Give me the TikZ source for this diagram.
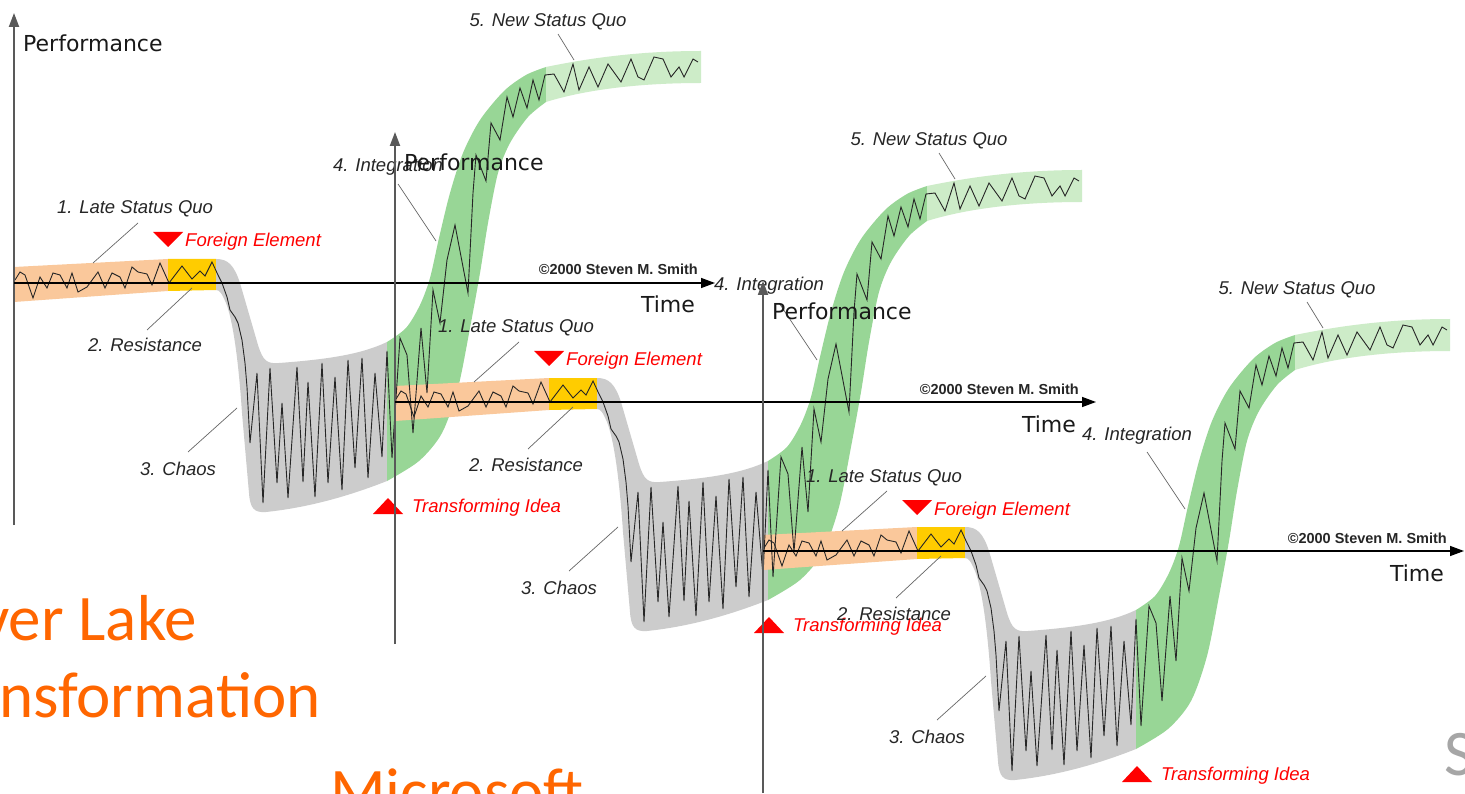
\documentclass[tikz,border=0pt]{standalone}
\usepackage{fontspec}
\setmainfont{Liberation Sans}
\newfontfamily\stagefam{Liberation Sans}
\newfontfamily\axisfam{DejaVu Sans}
\newfontfamily\slidefam{Carlito}
\usetikzlibrary{arrows.meta}

\definecolor{bandorange}{RGB}{250,200,155}
\definecolor{bandyellow}{RGB}{255,204,0}
\definecolor{bandgray}{RGB}{204,204,204}
\definecolor{bandgreen}{RGB}{152,214,150}
\definecolor{bandlight}{RGB}{205,236,200}
\definecolor{cuered}{RGB}{255,0,0}
\definecolor{slideorange}{RGB}{255,102,0}
\definecolor{slidegray}{RGB}{166,166,166}

\newcommand\stagefont{\stagefam\itshape\fontsize{18.5}{20}\selectfont}
\newcommand\axislabelfont{\axisfam\fontsize{22}{24}\selectfont}
\newcommand\creditfont{\stagefam\bfseries\fontsize{14.5}{16}\selectfont}
\newcommand\slidefont{\slidefam\fontsize{65}{70}\selectfont}

\tikzset{
  trend/.style={draw=black!85, line width=0.9pt, line join=miter},
  leader/.style={draw=black!60, line width=0.7pt},
  vaxis/.style={draw=black!65, line width=2pt, -{Triangle[length=14pt,width=10pt]}},
  haxis/.style={draw=black, line width=1.4pt, -{Triangle[length=14pt,width=10pt]}},
  stage/.style={font=\stagefont, text=black!85, inner sep=0pt},
  cue/.style={font=\stagefont, text=cuered, inner sep=0pt},
  axislabel/.style={font=\axislabelfont, text=black!90, inner sep=0pt},
  credit/.style={font=\creditfont, text=black!85, inner sep=0pt},
  slide/.style={font=\slidefont, text=slideorange, inner sep=0pt},
}

% Coloured bands of one change curve (origin = axis crossing, y grows downwards)
\newcommand\satirbands{%
  % 1. late status quo
  \fill[bandorange] (0,-16) -- (154,-24) -- (154,8) -- (0,19) -- cycle;
  % 2. resistance
  \fill[bandyellow] (154,-24) -- (202,-24) -- (202,7) -- (154,8) -- cycle;
  % 3. chaos
  \fill[bandgray] (202,-24) .. controls (214,-24) and (220,-18) .. (226,0)
     -- (244,62) .. controls (249,78) and (253,81) .. (265,80)
     .. controls (320,76) and (350,70) .. (373,59)
     -- (373,198) .. controls (330,215) and (290,225) .. (252,229)
     .. controls (240,230) and (236,225) .. (235,210)
     -- (228,130) .. controls (224,70) and (218,35) .. (212,20)
     .. controls (208,11) and (206,7) .. (202,7) -- cycle;
  % 4. integration
  \fill[bandgreen] plot[smooth] coordinates {(373,59) (392,45) (406,22) (416,-5)
     (425,-45) (436,-90) (449,-130) (466,-163) (490,-192) (512,-208) (532,-216)}
     -- plot[smooth] coordinates {(532,-181) (514,-166) (496,-140) (484,-110)
     (474,-60) (466,-10) (456,45) (444,105) (428,150) (405,178) (373,198)} -- cycle;
  % 5. new status quo
  \fill[bandlight] (532,-216) .. controls (590,-228) and (640,-232) .. (687,-232)
     -- (687,-200) .. controls (640,-200) and (580,-196) .. (532,-181) -- cycle;
}

% Curve, axes and labels of one change curve; #1 tags the names
\newcommand\satirdetail[1]{%
  \draw[trend] plot coordinates {(1,-3) (6,-11) (11,-8) (19,15) (26,-6) (33,5)
     (39,-10) (46,-8) (53,5) (58,-10) (64,9) (73,4) (84,-11) (91,5) (98,-10)
     (106,-6) (111,5) (118,-16) (124,-11) (133,-9) (138,2) (146,-20) (155,0)
     (168,-17) (178,-4) (186,-12) (191,-7) (198,-21) (204,-8) (208,0) (213,14)
     (216,27) (221,34) (224,40) (228,57) (231,80) (233,104) (236,160) (243,90)
     (249,220) (256,85) (263,200) (268,120) (274,215) (283,84) (289,199)
     (294,99) (301,214) (308,80) (314,200) (321,94) (328,207) (334,77)
     (341,185) (348,75) (354,195) (361,90) (368,174) (373,68) (378,175)
     (386,55) (393,72) (399,150) (407,45) (413,110) (419,7) (426,40) (433,-23)
     (441,-58) (454,10) (459,-90) (462,-128) (472,-102) (477,-160) (486,-143)
     (493,-186) (499,-166) (506,-195) (513,-175) (519,-203) (525,-183)
     (531,-208) (540,-209) (550,-191) (559,-219) (565,-193) (575,-216)
     (584,-196) (594,-219) (607,-201) (617,-224) (624,-206) (630,-203)
     (640,-226) (649,-224) (657,-206) (665,-216) (670,-206) (679,-224)
     (684,-221)};
  % axes
  \coordinate (o#1) at (0,0);
  \coordinate (ytop#1) at (0,-270);
  \coordinate (ybot#1) at (0,242);
  \coordinate (xend#1) at (701,0);
  \draw[vaxis] (ybot#1) -- (ytop#1);
  \draw[haxis] (o#1) -- (xend#1);
  \node[axislabel, anchor=base west] (perf#1) at (9,-231) {Performance};
  \node[axislabel, anchor=base] (time#1) at (654,30) {Time};
  \node[credit, anchor=base east] (credit#1) at (684,-8) {©2000 Steven M. Smith};
  % stage labels and their leaders
  \node[stage, anchor=base] (lsq#1) at (121,-69) {1. Late Status Quo};
  \node[stage, anchor=base] (res#1) at (131,69) {2. Resistance};
  \node[stage, anchor=base] (chaos#1) at (164,192) {3. Chaos};
  \node[stage, anchor=base] (integ#1) at (374,-111) {4. Integration};
  \node[stage, anchor=base] (nsq#1) at (534,-256) {5. New Status Quo};
  \coordinate (lsqA#1) at (124,-60);   \coordinate (lsqB#1) at (79,-20);
  \coordinate (resA#1) at (133,47);    \coordinate (resB#1) at (178,5);
  \coordinate (chaosA#1) at (174,169); \coordinate (chaosB#1) at (223,125);
  \coordinate (integA#1) at (384,-99); \coordinate (integB#1) at (422,-42);
  \coordinate (nsqA#1) at (544,-249);  \coordinate (nsqB#1) at (560,-223);
  \draw[leader] (lsqA#1) -- (lsqB#1);
  \draw[leader] (resA#1) -- (resB#1);
  \draw[leader] (chaosA#1) -- (chaosB#1);
  \draw[leader] (integA#1) -- (integB#1);
  \draw[leader] (nsqA#1) -- (nsqB#1);
  % triggers
  \fill[cuered] (139,-51) -- (169,-51) -- (154,-36) -- cycle;
  \node[cue, anchor=base west] (foreign#1) at (171,-36) {Foreign Element};
  \fill[cuered] (359,231) -- (389,231) -- (374,215) -- cycle;
  \node[cue, anchor=base west] (idea#1) at (398,229) {Transforming Idea};
}

\begin{document}
\begin{tikzpicture}[x=1pt,y=-1pt]
  \useasboundingbox (0,0) rectangle (1465,794);
  \fill[white] (0,0) rectangle (1465,794);
  \clip (0,0) rectangle (1465,794);

  % slide text behind the diagrams
  \node[slide, anchor=base east] (title1) at (197,640) {ver Lake};
  \node[slide, anchor=base east] (title2) at (321,717) {nsformation};
  \node[slide, anchor=base west] (org) at (330,813) {Microsoft};
  \node[slide, text=slidegray, anchor=base west] (side) at (1444,775) {S};

  % bands first, so every curve stays visible on top
  \begin{scope}[shift={(14,283)}]\satirbands\end{scope}
  \begin{scope}[shift={(395,402)}]\satirbands\end{scope}
  \begin{scope}[shift={(763,551)}]\satirbands\end{scope}

  \begin{scope}[shift={(14,283)}]\satirdetail{a}\end{scope}
  \begin{scope}[shift={(395,402)}]\satirdetail{b}\end{scope}
  \begin{scope}[shift={(763,551)}]\satirdetail{c}\end{scope}
\end{tikzpicture}
\end{document}
